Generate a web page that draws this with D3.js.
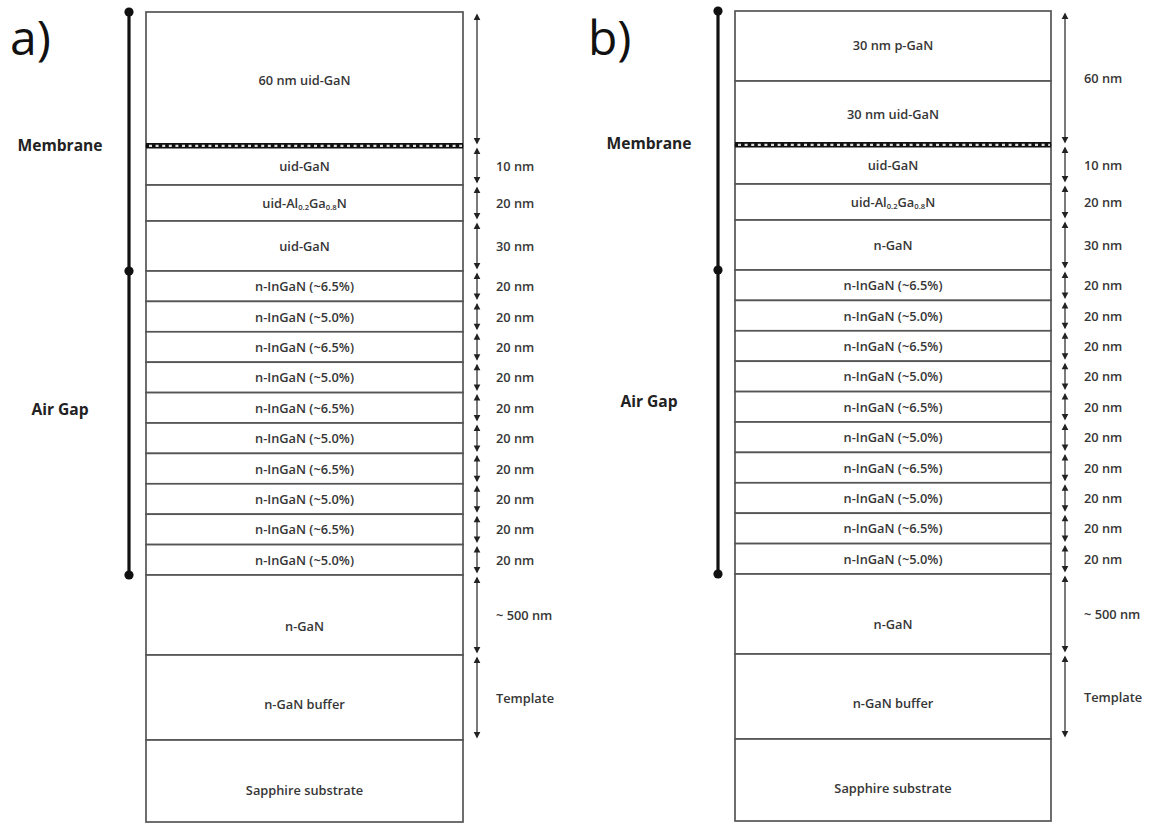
<!DOCTYPE html>
<html><head><meta charset="utf-8">
<script src="https://cdn.jsdelivr.net/npm/d3@7"></script>
<style>body{margin:0;background:#fff;} svg{display:block;}</style>
</head><body><svg id="c" width="1153" height="823"></svg>
<script>
// ---------- data ----------
const panelTitles = ["a)", "b)"];

const layersA = ["60 nm uid-GaN", "uid-GaN", "uid-Al_{0.2}Ga_{0.8}N", "uid-GaN",
  "n-InGaN (~6.5%)", "n-InGaN (~5.0%)", "n-InGaN (~6.5%)", "n-InGaN (~5.0%)", "n-InGaN (~6.5%)",
  "n-InGaN (~5.0%)", "n-InGaN (~6.5%)", "n-InGaN (~5.0%)", "n-InGaN (~6.5%)", "n-InGaN (~5.0%)",
  "n-GaN", "n-GaN buffer", "Sapphire substrate"];
// drawn (schematic) thickness of each layer, arbitrary units
const heightsA = [134, 39, 36, 50, 30.4, 30.4, 30.4, 30.4, 30.4, 30.4, 30.4, 30.4, 30.4, 30.4, 80, 85, 82];
// relative vertical position of each layer's label inside its box
const labelPosA = [0.51, 0.52, 0.5, 0.5, 0.5, 0.5, 0.5, 0.5, 0.5, 0.5, 0.5, 0.5, 0.5, 0.5, 0.64, 0.58, 0.61];

const layersB = ["30 nm p-GaN", "30 nm uid-GaN", "uid-GaN", "uid-Al_{0.2}Ga_{0.8}N", "n-GaN",
  "n-InGaN (~6.5%)", "n-InGaN (~5.0%)", "n-InGaN (~6.5%)", "n-InGaN (~5.0%)", "n-InGaN (~6.5%)",
  "n-InGaN (~5.0%)", "n-InGaN (~6.5%)", "n-InGaN (~5.0%)", "n-InGaN (~6.5%)", "n-InGaN (~5.0%)",
  "n-GaN", "n-GaN buffer", "Sapphire substrate"];
const heightsB = [70, 64, 39, 36, 50, 30.4, 30.4, 30.4, 30.4, 30.4, 30.4, 30.4, 30.4, 30.4, 30.4, 80, 85, 82];
const labelPosB = [0.49, 0.51, 0.52, 0.5, 0.5, 0.5, 0.5, 0.5, 0.5, 0.5, 0.5, 0.5, 0.5, 0.5, 0.5, 0.625, 0.58, 0.6];

// dimension arrows (label, number of layers spanned)
const dimLabelsA = ["", "10 nm", "20 nm", "30 nm", "20 nm", "20 nm", "20 nm", "20 nm", "20 nm",
  "20 nm", "20 nm", "20 nm", "20 nm", "20 nm", "~ 500 nm", "Template"];
const dimSpansA = [1, 1, 1, 1, 1, 1, 1, 1, 1, 1, 1, 1, 1, 1, 1, 1];
const dimLabelsB = ["60 nm", "10 nm", "20 nm", "30 nm", "20 nm", "20 nm", "20 nm", "20 nm", "20 nm",
  "20 nm", "20 nm", "20 nm", "20 nm", "20 nm", "~ 500 nm", "Template"];
const dimSpansB = [2, 1, 1, 1, 1, 1, 1, 1, 1, 1, 1, 1, 1, 1, 1, 1];

// regions on the left bar (name, number of layers spanned, label position within region)
const regionNames = ["Membrane", "Air Gap"];
const regionSpansA = [4, 10];
const regionSpansB = [5, 10];
const regionLabelPosA = [0.515, 0.455];
const regionLabelPosB = [0.51, 0.43];

// index of the layer under which the sacrificial (dashed) interface lies
const interfaceAfterA = 0;
const interfaceAfterB = 1;

// ---------- drawing ----------
const svg = d3.select("#c");
const FONT = "'Open Sans', 'Noto Sans', sans-serif";
const TXT = "#363636";

function addRich(sel, label, size) {
  const parts = label.split(/_\{([^}]*)\}/);
  let shifted = false;
  parts.forEach((p, i) => {
    if (p === "") return;
    const isSub = i % 2 === 1;
    const t = sel.append("tspan").text(p);
    if (isSub) { t.attr("font-size", size * 0.6).attr("dy", shifted ? 0 : 3.5); shifted = true; }
    else { if (shifted) t.attr("dy", -3.5); shifted = false; }
  });
}

function panel(cfg) {
  const g = svg.append("g");
  const x = d3.scaleLinear().domain([0, 1]).range([cfg.left, cfg.right]);
  const total = d3.sum(cfg.heights);
  const y = d3.scaleLinear().domain([0, total]).range(cfg.yRange);
  const cum = [0]; cfg.heights.forEach(h => cum.push(cum[cum.length - 1] + h));

  // title
  g.append("text").attr("x", cfg.left - cfg.titleOffset).attr("y", 55)
    .attr("font-family", FONT).attr("font-size", 48).attr("fill", "#111")
    .text(cfg.title);

  // layers
  const layer = g.selectAll("g.layer").data(cfg.layers).join("g");
  layer.append("rect")
    .attr("x", x(0)).attr("width", x(1) - x(0))
    .attr("y", (d, i) => y(cum[i])).attr("height", (d, i) => y(cum[i + 1]) - y(cum[i]))
    .attr("fill", "#fff").attr("stroke", "#555").attr("stroke-width", 1.7);
  layer.append("text")
    .attr("x", x(0.5))
    .attr("y", (d, i) => y(cum[i]) + (y(cum[i + 1]) - y(cum[i])) * cfg.labelPos[i])
    .attr("text-anchor", "middle").attr("dominant-baseline", "central")
    .attr("font-family", FONT).attr("font-size", 12.8).attr("font-weight", 600).attr("fill", TXT)
    .each(function (d) { addRich(d3.select(this), d, 12.8); });

  // sacrificial interface (dashed band)
  const yi = y(cum[cfg.interfaceAfter + 1]);
  g.append("rect").attr("x", x(0)).attr("width", x(1) - x(0))
    .attr("y", yi - 3).attr("height", 5.5).attr("fill", "#111");
  g.append("line").attr("x1", x(0) + 3).attr("x2", x(1) - 1).attr("y1", yi - 0.2).attr("y2", yi - 0.2)
    .attr("stroke", "#ddd").attr("stroke-width", 2.2).attr("stroke-dasharray", "3,3.6");

  // dimension arrows
  const ax = x(1) + 14;
  let li = 0;
  const dims = cfg.dimLabels.map((lab, k) => {
    const y0 = y(cum[li]); li += cfg.dimSpans[k]; const y1 = y(cum[li]);
    return { lab, y0, y1 };
  });
  const dg = g.selectAll("g.dim").data(dims).join("g");
  dg.append("line").attr("x1", ax).attr("x2", ax)
    .attr("y1", d => d.y0 + 3).attr("y2", d => d.y1 - 3)
    .attr("stroke", "#333").attr("stroke-width", 1.3);
  dg.append("path").attr("fill", "#222")
    .attr("d", d => `M${ax},${d.y0 + 1.5}L${ax - 3.3},${d.y0 + 8}L${ax + 3.3},${d.y0 + 8}Z`);
  dg.append("path").attr("fill", "#222")
    .attr("d", d => `M${ax},${d.y1 - 1.5}L${ax - 3.3},${d.y1 - 8}L${ax + 3.3},${d.y1 - 8}Z`);
  dg.append("text").attr("x", x(1) + 33).attr("y", d => (d.y0 + d.y1) / 2)
    .attr("dominant-baseline", "central")
    .attr("font-family", FONT).attr("font-size", 12.8).attr("font-weight", 600).attr("fill", TXT)
    .text(d => d.lab);

  // left bar with regions
  const bx = x(0) - 17;
  let ri = 0;
  const regs = regionNames.map((name, k) => {
    const y0 = y(cum[ri]); ri += cfg.regionSpans[k]; const y1 = y(cum[ri]);
    return { name, y0, y1, pos: cfg.regionLabelPos[k] };
  });
  g.append("line").attr("x1", bx).attr("x2", bx)
    .attr("y1", regs[0].y0).attr("y2", regs[regs.length - 1].y1)
    .attr("stroke", "#111").attr("stroke-width", 3.2);
  const dots = [regs[0].y0].concat(regs.map(r => r.y1));
  g.selectAll("circle.dot").data(dots).join("circle")
    .attr("cx", bx).attr("cy", d => d).attr("r", 4.6).attr("fill", "#111");
  g.selectAll("text.reg").data(regs).join("text")
    .attr("x", x(0) - 86).attr("y", d => d.y0 + (d.y1 - d.y0) * d.pos)
    .attr("text-anchor", "middle").attr("dominant-baseline", "central")
    .attr("font-family", FONT).attr("font-size", 15.6).attr("font-weight", "bold").attr("fill", "#222")
    .text(d => d.name);
}

panel({ title: panelTitles[0], titleOffset: 136, left: 146, right: 463, yRange: [12, 822],
  layers: layersA, heights: heightsA, labelPos: labelPosA, dimLabels: dimLabelsA, dimSpans: dimSpansA,
  regionSpans: regionSpansA, regionLabelPos: regionLabelPosA, interfaceAfter: interfaceAfterA });
panel({ title: panelTitles[1], titleOffset: 147, left: 735, right: 1051, yRange: [11, 821],
  layers: layersB, heights: heightsB, labelPos: labelPosB, dimLabels: dimLabelsB, dimSpans: dimSpansB,
  regionSpans: regionSpansB, regionLabelPos: regionLabelPosB, interfaceAfter: interfaceAfterB });
</script>
</body></html>
